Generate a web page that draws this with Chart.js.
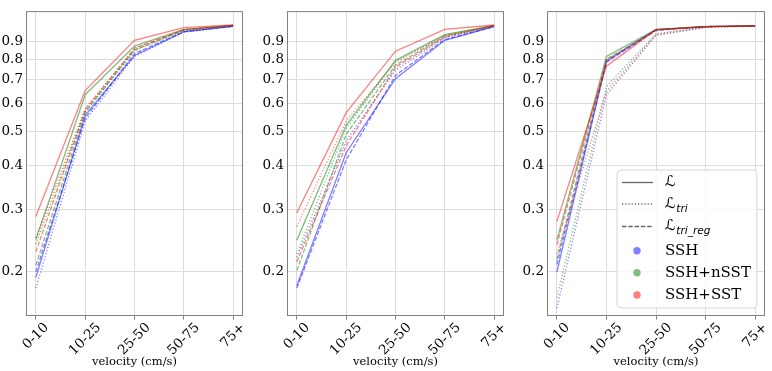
<!DOCTYPE html>
<html lang="en">
<head>
  <meta charset="UTF-8" />
  <title>Accuracy by velocity</title>
  <script src="https://cdn.jsdelivr.net/npm/chart.js"></script>
  <style>
    body { margin: 0; background: #fff; width: 772px; height: 371px; overflow: hidden; position: relative; }
    .panel { position: absolute; top: 0; }
  </style>
</head>
<body>
  <div id="charts"></div>

  <script>
    const categories = ['0-10', '10-25', '25-50', '50-75', '75+'];
    const yTicks = [0.2, 0.3, 0.4, 0.5, 0.6, 0.7, 0.8, 0.9];

    // left panel
    const leftSSH_L     = [0.193, 0.555, 0.820, 0.957, 0.992];
    const leftSSH_tri   = [0.180, 0.535, 0.815, 0.955, 0.991];
    const leftSSH_reg   = [0.200, 0.545, 0.830, 0.958, 0.993];
    const leftNSST_L    = [0.247, 0.635, 0.872, 0.972, 0.998];
    const leftNSST_tri  = [0.240, 0.570, 0.845, 0.966, 0.997];
    const leftNSST_reg  = [0.209, 0.565, 0.850, 0.966, 0.997];
    const leftSST_L     = [0.287, 0.652, 0.905, 0.983, 1.000];
    const leftSST_tri   = [0.250, 0.580, 0.855, 0.970, 0.998];
    const leftSST_reg   = [0.228, 0.575, 0.860, 0.970, 0.998];

    // middle panel
    const midSSH_L      = [0.183, 0.435, 0.705, 0.905, 0.990];
    const midSSH_tri    = [0.220, 0.470, 0.745, 0.920, 0.993];
    const midSSH_reg    = [0.180, 0.415, 0.720, 0.910, 0.990];
    const midNSST_L     = [0.246, 0.520, 0.795, 0.940, 0.997];
    const midNSST_tri   = [0.225, 0.510, 0.790, 0.935, 0.996];
    const midNSST_reg   = [0.202, 0.490, 0.770, 0.930, 0.995];
    const midSST_L      = [0.294, 0.565, 0.843, 0.972, 1.000];
    const midSST_tri    = [0.269, 0.535, 0.785, 0.935, 0.997];
    const midSST_reg    = [0.214, 0.455, 0.760, 0.925, 0.995];

    // right panel
    const rightSSH_L    = [0.200, 0.790, 0.970, 0.990, 0.994];
    const rightSSH_tri  = [0.158, 0.635, 0.935, 0.985, 0.993];
    const rightSSH_reg  = [0.210, 0.785, 0.965, 0.990, 0.994];
    const rightNSST_L   = [0.246, 0.815, 0.972, 0.990, 0.995];
    const rightNSST_tri = [0.169, 0.670, 0.945, 0.987, 0.994];
    const rightNSST_reg = [0.217, 0.800, 0.968, 0.990, 0.994];
    const rightSST_L    = [0.278, 0.765, 0.970, 0.990, 0.995];
    const rightSST_tri  = [0.225, 0.650, 0.940, 0.986, 0.994];
    const rightSST_reg  = [0.239, 0.795, 0.968, 0.990, 0.994];

    const inputs = ['SSH', 'SSH+nSST', 'SSH+SST'];
    const colors = ['rgba(0, 0, 255, 0.5)', 'rgba(0, 128, 0, 0.5)', 'rgba(255, 0, 0, 0.5)'];
    const losses = ['L', 'tri', 'reg'];
    const dashes = [[], [1.2, 2], [4.4, 1.9]];

    const panels = [
      { left: 0,   width: 257, plotW: 217, legend: false,
        series: [[leftSSH_L, leftSSH_tri, leftSSH_reg], [leftNSST_L, leftNSST_tri, leftNSST_reg], [leftSST_L, leftSST_tri, leftSST_reg]] },
      { left: 261, width: 257, plotW: 217, legend: false,
        series: [[midSSH_L, midSSH_tri, midSSH_reg], [midNSST_L, midNSST_tri, midNSST_reg], [midSST_L, midSST_tri, midSST_reg]] },
      { left: 521, width: 251, plotW: 218, legend: true,
        series: [[rightSSH_L, rightSSH_tri, rightSSH_reg], [rightNSST_L, rightNSST_tri, rightNSST_reg], [rightSST_L, rightSST_tri, rightSST_reg]] }
    ];

    const SERIF = '"DejaVu Serif", serif';
    const AXIS_W = 26, X_H = 55;

    function drawLegend(ctx) {
      ctx.save();
      const x0 = 96, y0 = 170, w = 140, h = 138, r = 4;
      ctx.beginPath();
      ctx.roundRect(x0, y0, w, h, r);
      ctx.fillStyle = 'rgba(255,255,255,0.8)';
      ctx.fill();
      ctx.strokeStyle = '#d6d6d6';
      ctx.lineWidth = 1;
      ctx.stroke();

      const lineRows = [182.5, 204, 226.5];
      const subs = ['', 'tri', 'tri_reg'];
      lineRows.forEach((y, i) => {
        ctx.beginPath();
        ctx.setLineDash(dashes[i]);
        ctx.strokeStyle = 'rgba(0,0,0,0.6)';
        ctx.lineWidth = 1.3;
        ctx.moveTo(101, y);
        ctx.lineTo(132, y);
        ctx.stroke();
        ctx.setLineDash([]);
        ctx.fillStyle = '#000';
        ctx.textBaseline = 'middle';
        ctx.textAlign = 'left';
        ctx.font = '15px "DejaVu Sans"';
        ctx.fillText('\u2112', 144, y);
        if (subs[i]) {
          const lw = ctx.measureText('\u2112').width;
          ctx.font = 'italic 10.5px "DejaVu Sans"';
          ctx.fillText(subs[i], 144 + lw + 0.5, y + 5);
        }
      });

      const dotRows = [250.7, 272.7, 295];
      dotRows.forEach((y, i) => {
        ctx.beginPath();
        ctx.arc(116, y, 3.7, 0, Math.PI * 2);
        ctx.fillStyle = colors[i];
        ctx.fill();
        ctx.fillStyle = '#000';
        ctx.font = '15px ' + SERIF;
        ctx.textBaseline = 'middle';
        ctx.fillText(inputs[i], 144, y);
      });
      ctx.restore();
    }

    const framePlugin = {
      id: 'frame',
      afterDraw(chart, args, opts) {
        const { ctx, chartArea: a } = chart;
        const xs = chart.scales.x;
        ctx.save();
        ctx.strokeStyle = '#808080';
        ctx.lineWidth = 1;
        ctx.strokeRect(a.left + 0.5, a.top + 0.5, a.right - a.left - 1, a.bottom - a.top - 1);

        // rotated category labels, centred on the tick like matplotlib
        ctx.fillStyle = '#000';
        ctx.font = '13.5px ' + SERIF;
        ctx.textAlign = 'center';
        ctx.textBaseline = 'middle';
        const top = a.bottom + 6;
        categories.forEach((c, i) => {
          const x = xs.getPixelForValue(i);
          const w = ctx.measureText(c).width;
          const box = (w + 10) * Math.SQRT1_2;
          ctx.save();
          ctx.translate(x, top + box / 2);
          ctx.rotate(-Math.PI / 4);
          ctx.fillText(c, 0, 0);
          ctx.restore();
        });

        ctx.font = '11.5px ' + SERIF;
        ctx.fillText('velocity (cm/s)', (a.left + a.right) / 2, 362);
        ctx.restore();

        if (opts.legend) drawLegend(ctx);
      }
    };

    panels.forEach(p => {
      const div = document.createElement('div');
      div.className = 'panel';
      div.style.left = p.left + 'px';
      const canvas = document.createElement('canvas');
      canvas.width = p.width;
      canvas.height = 371;
      canvas.style.width = p.width + 'px';
      canvas.style.height = '371px';
      div.append(canvas);
      document.getElementById('charts').append(div);

      const datasets = [];
      let k = 0;
      p.series.forEach((group, ci) => {
        group.forEach((vals, li) => {
          datasets.push({
            label: inputs[ci] + ' ' + losses[li],
            data: vals.map((v, i) => ({ x: i, y: v })),
            borderColor: colors[ci],
            borderWidth: 1.3,
            borderDash: dashes[li],
            pointRadius: 0,
            fill: false,
            tension: 0,
            order: 100 - k++
          });
        });
      });

      new Chart(canvas.getContext('2d'), {
        type: 'line',
        data: { datasets },
        options: {
          responsive: false,
          animation: false,
          devicePixelRatio: 1,
          layout: { padding: { top: 2, right: p.width - AXIS_W - p.plotW, left: 0, bottom: 0 } },
          plugins: {
            legend: { display: false },
            tooltip: { enabled: false },
            frame: { legend: p.legend }
          },
          scales: {
            x: {
              type: 'linear',
              min: -0.2,
              max: 4.2,
              afterBuildTicks: s => { s.ticks = categories.map((c, i) => ({ value: i })); },
              afterFit: s => { s.height = X_H; },
              ticks: { display: false },
              border: { display: false },
              grid: { color: '#dcdcdc', lineWidth: 1, drawTicks: true, tickLength: 3.5, tickColor: '#808080' }
            },
            y: {
              type: 'logarithmic',
              min: 0.150,
              max: 1.095,
              afterBuildTicks: s => { s.ticks = yTicks.map(v => ({ value: v })); },
              afterFit: s => { s.width = AXIS_W; },
              ticks: {
                padding: 3,
                color: '#000',
                font: { family: SERIF, size: 13.5 },
                callback: v => Number(v).toFixed(1)
              },
              border: { display: false },
              grid: { color: '#dcdcdc', lineWidth: 1, drawTicks: false }
            }
          }
        },
        plugins: [framePlugin]
      });
    });
  </script>
</body>
</html>
